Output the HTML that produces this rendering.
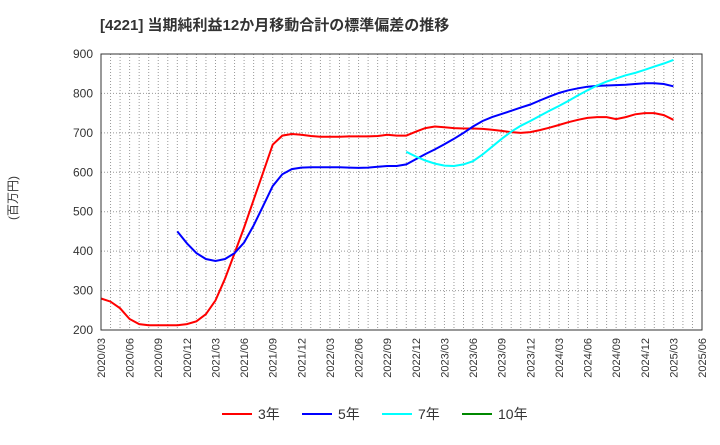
<!DOCTYPE html>
<html><head><meta charset="utf-8">
<style>
body{margin:0;background:#fff;width:720px;height:440px;overflow:hidden;font-family:"Liberation Sans","Noto Sans CJK JP",sans-serif;}
svg text{font-family:"Liberation Sans","Noto Sans CJK JP",sans-serif;}
</style></head>
<body>
<svg id="c" width="720" height="440">
<text x="100" y="30" font-size="15" font-weight="bold" fill="#333">[4221]  当期純利益12か月移動合計の標準偏差の推移</text>
<text transform="translate(17,198) rotate(-90)" text-anchor="middle" font-size="12" fill="#333">(百万円)</text>
<g id="grid"></g><g id="series"></g><g id="axes"></g><g id="legend"></g>
</svg>
<script>
const yTicks=[200,300,400,500,600,700,800,900];
const xLabels=["2020/03","2020/06","2020/09","2020/12","2021/03","2021/06","2021/09","2021/12","2022/03","2022/06","2022/09","2022/12","2023/03","2023/06","2023/09","2023/12","2024/03","2024/06","2024/09","2024/12","2025/03","2025/06"];
const s3=[280,272,255,228,215,212,212,212,212,215,222,240,275,330,395,460,530,600,670,693,697,695,692,690,690,690,691,691,691,692,695,693,693,703,712,716,714,712,711,711,710,708,705,702,700,702,707,713,720,727,733,738,740,740,735,740,747,750,750,745,733];
const s5Start=8;
const s5=[450,420,395,380,375,380,395,422,465,515,565,595,608,612,613,613,613,613,612,611,612,614,616,616,620,633,646,658,671,685,700,716,730,740,748,756,764,772,782,792,801,808,813,817,819,820,821,822,824,826,826,824,818];
const s7Start=32;
const s7=[652,640,630,622,617,616,620,628,645,665,685,703,718,730,743,756,768,781,795,808,820,830,838,846,852,860,868,876,885];
const L=101,R=702,T=54,B=330,months=63;
const X=i=>L+i*(R-L)/months;
const Y=v=>B-(v-200)*(B-T)/700;
const NS="http://www.w3.org/2000/svg";
function mk(tag,attrs,parent){const e=document.createElementNS(NS,tag);for(const k in attrs)e.setAttribute(k,attrs[k]);parent.appendChild(e);return e;}
const grid=document.getElementById('grid'),axes=document.getElementById('axes'),ser=document.getElementById('series'),leg=document.getElementById('legend');
for(let i=1;i<months;i++){const g=mk('line',{x1:X(i),x2:X(i),y1:T,y2:B,stroke:'#999','stroke-dasharray':'1,2','stroke-width':1},grid);

}
yTicks.forEach(v=>{const g=mk('line',{x1:L,x2:R,y1:Y(v),y2:Y(v),stroke:'#999','stroke-dasharray':'1,2'},grid);


const t=mk('text',{x:L-8,y:Y(v)+4,'text-anchor':'end','font-size':12,fill:'#333'},axes);t.textContent=v;

});
xLabels.forEach((s,k)=>{const x=X(k*3);const t=mk('text',{transform:`translate(${x+4},${B+8}) rotate(-90)`,'text-anchor':'end','font-size':11,fill:'#333'},axes);t.textContent=s;

});
const fr=mk('rect',{x:L,y:T,width:R-L,height:B-T,fill:'none',stroke:'#333','stroke-width':1},axes);


function line(arr,start,color,name){const p=arr.map((v,i)=>(i?'L':'M')+X(start+i).toFixed(1)+','+Y(v).toFixed(1)).join('');
const e=mk('path',{d:p,fill:'none',stroke:color,'stroke-width':2},ser);

}
line(s3,0,'#f00','series-3y');
line(s5,s5Start,'#00f','series-5y');
line(s7,s7Start,'#0ff','series-7y');
const items=[['3年','#f00',222],['5年','#00f',302],['7年','#0ff',382],['10年','#080',462]];
items.forEach(([n,c,x])=>{const g=mk('g',{},leg);


mk('line',{x1:x,x2:x+30,y1:414,y2:414,stroke:c,'stroke-width':2},g);
const t=mk('text',{x:x+36,y:419,'font-size':14,fill:'#333'},g);t.textContent=n;});
</script>
</body></html>
